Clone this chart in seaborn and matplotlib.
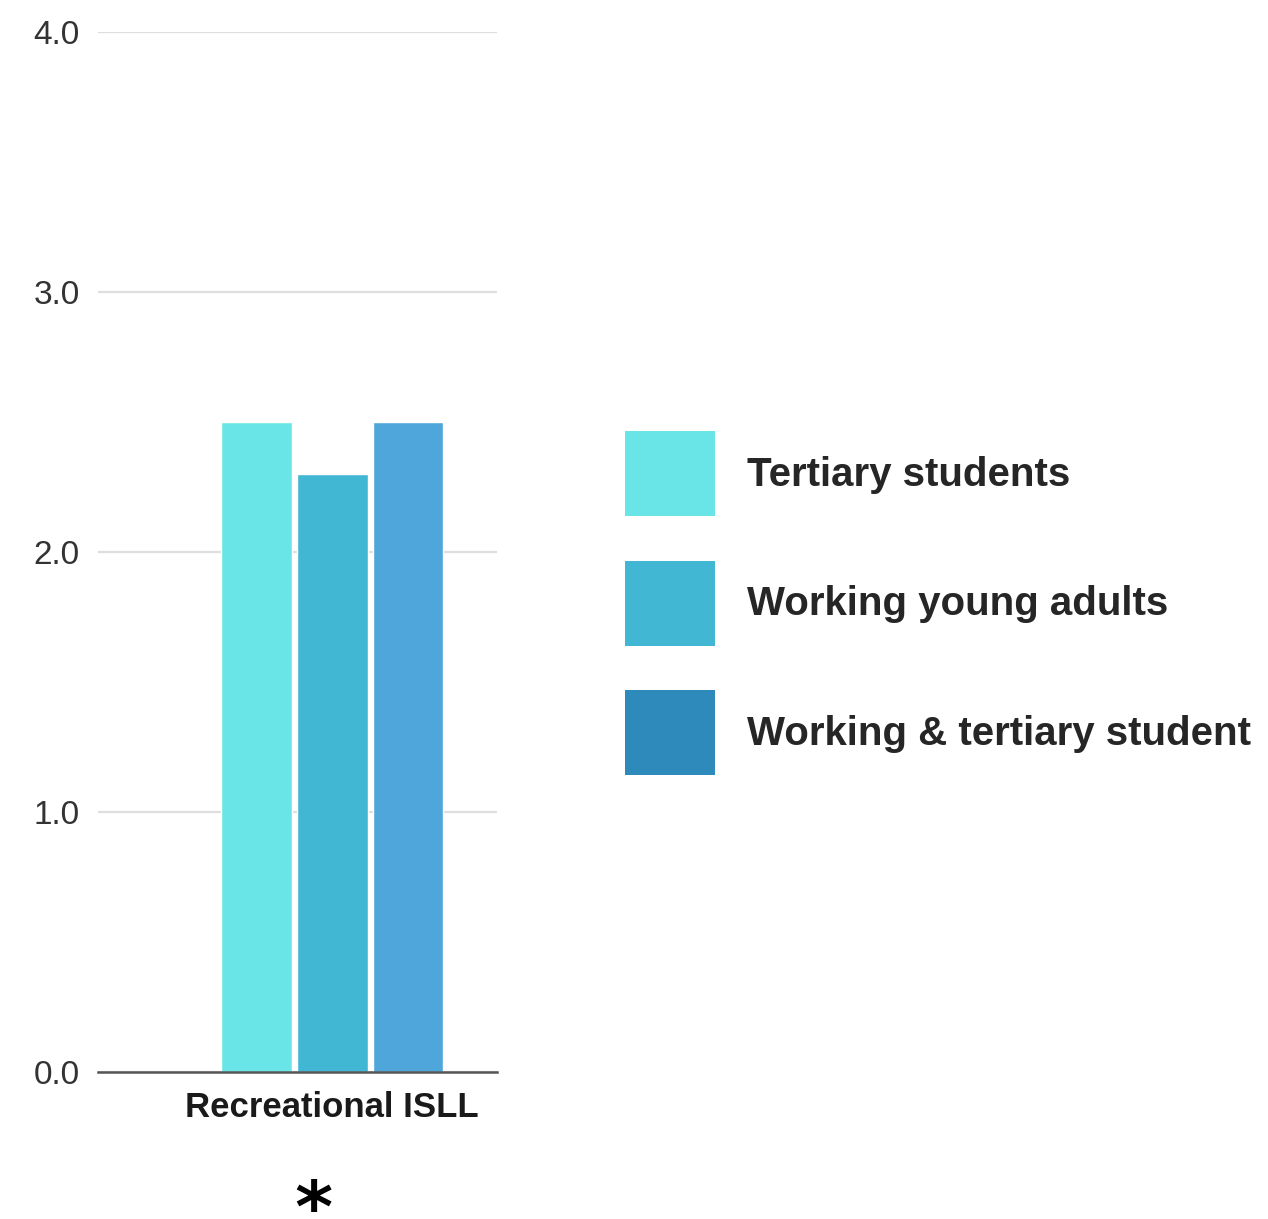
import matplotlib
matplotlib.use("Agg")
import matplotlib.pyplot as plt
from matplotlib.patches import Patch
import seaborn as sns
import pandas as pd

# Data
categories = ["Recreational ISLL"]
groups = ["Tertiary students", "Working young adults", "Working & tertiary student"]
values = [2.5, 2.3, 2.5]
bar_colors = ["#6ae5e7", "#41b7d3", "#4fa6da"]
legend_colors = ["#6ae5e7", "#41b7d3", "#2e8abb"]
y_ticks = [0.0, 1.0, 2.0, 3.0, 4.0]

df = pd.DataFrame({
    "category": categories * len(groups),
    "group": groups,
    "value": values,
})

sns.set_theme(style="white")
plt.rcParams["font.family"] = ["Liberation Sans", "DejaVu Sans"]

W, H = 1268, 1219
fig = plt.figure(figsize=(W / 100, H / 100), dpi=100)
ax = fig.add_axes([98 / W, 1 - 1072 / H, (497 - 98) / W, (1072 - 32) / H])

sns.barplot(data=df, x="category", y="value", hue="group", hue_order=groups,
            palette=bar_colors, width=0.822, gap=0.065, ax=ax, legend=False,
            errorbar=None, saturation=1)

ax.set_ylim(0, 4.0)
ax.set_xlim(-0.849, 0.597)
ax.set_yticks(y_ticks)
ax.set_yticklabels([f"{t:.1f}" for t in y_ticks])
ax.yaxis.grid(True, color="#dedede", linewidth=1.6)
ax.set_axisbelow(True)
for s in ["top", "right", "left"]:
    ax.spines[s].set_visible(False)
ax.spines["bottom"].set_color("#555555")
ax.spines["bottom"].set_linewidth(1.8)
ax.tick_params(axis="y", length=0, pad=13, labelsize=24, labelcolor="#333333")
ax.tick_params(axis="x", length=0, pad=14, labelsize=25, labelcolor="#1a1a1a")
for lbl in ax.get_xticklabels():
    lbl.set_fontweight("bold")
ax.set_xlabel("")
ax.set_ylabel("")

handles = [Patch(facecolor=c, edgecolor="none") for c in legend_colors]
fig.legend(handles, groups, loc="upper left",
           bbox_to_anchor=(625 / W, 1 - 431 / H), frameon=False,
           borderpad=0, borderaxespad=0,
           prop={"weight": "bold", "size": 29},
           handlelength=2.23, handleheight=2.88, handletextpad=0.8,
           labelspacing=1.1)

# significance marker under the group (six-armed star, symmetric when turned)
fig.text(312 / W, 1 - 1211 / H, "*", ha="center", va="bottom", rotation=180,
         fontsize=52, fontweight="bold", color="black", family="DejaVu Sans")

fig.savefig("out.png", dpi=100, facecolor="white")
